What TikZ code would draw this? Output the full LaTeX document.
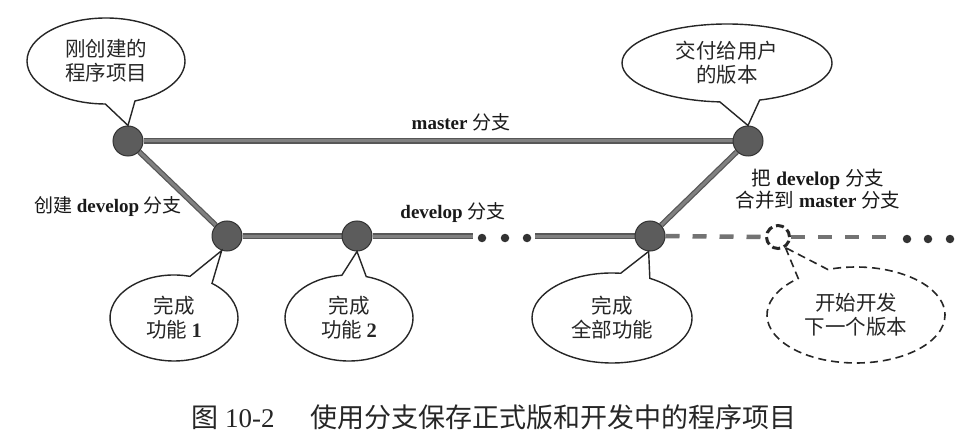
\documentclass[tikz,border=0pt]{standalone}
\usepackage{fontspec}
\setmainfont{Liberation Serif}
\newfontfamily\cjkfont{Noto Sans CJK SC}
\newcommand\ZH[1]{{\cjkfont #1}}
\usetikzlibrary{shapes.callouts,shapes.geometric}
\pgfdeclarelayer{paper}
\pgfdeclarelayer{background}
\pgfsetlayers{paper,background,main}
\begin{document}
\begin{tikzpicture}[x=1pt,y=-1pt,
  commit/.style={circle,fill=black!64,draw=black!80,line width=1pt,minimum size=30pt,inner sep=0pt},
  nextc/.style={circle,fill=white,draw=black!85,line width=3pt,dash pattern=on 8pt off 4pt,minimum size=23pt,inner sep=0pt},
  branchout/.style={line width=5.5pt,draw=black!66},
  branchin/.style={line width=3pt,draw=black!50},
  nextdash/.style={line width=4.5pt,draw=black!55,dash pattern=on 14pt off 13pt},
  dotc/.style={circle,fill=black!80,minimum size=8.5pt,inner sep=0pt},
  bubble/.style={ellipse callout,draw=black!85,line width=1.4pt,fill=white,inner sep=0pt,
    align=center,font=\cjkfont\fontsize{20.5}{24}\selectfont,text=black!85,callout pointer arc=22},
  lbl/.style={font=\fontsize{19}{22}\selectfont,align=center,inner sep=0pt,text=black!90}
]
\begin{pgfonlayer}{paper}
  \fill[white] (0,0) rectangle (973,438);
\end{pgfonlayer}
\useasboundingbox (0,0) rectangle (973,438);

% commits
\node[commit] (A) at (128,141) {};
\node[commit] (B) at (748,141) {};
\node[commit] (C) at (227,236) {};
\node[commit] (D) at (357,236) {};
\node[commit] (E) at (650,236) {};
\node[nextc] (F) at (778,237) {};

% dots
\coordinate (d1) at (473,236);
\coordinate (d2) at (535,236);
\node[dotc] (p1) at (482,238) {};
\node[dotc] (p2) at (505,238) {};
\node[dotc] (p3) at (527,238) {};
\coordinate (g1) at (897,237);
\node[dotc] (q1) at (907,239) {};
\node[dotc] (q2) at (928,239) {};
\node[dotc] (q3) at (950,239) {};

\begin{pgfonlayer}{background}
  \foreach \s/\t in {A/B,A/C,C/D,D/d1,d2/E,E/B}{
    \draw[branchout] (\s) -- (\t);
    \draw[branchin] (\s) -- (\t);
  }
  \draw[nextdash] (E.east) -- (F.west);
  \draw[nextdash] (F.east) -- (g1);
\end{pgfonlayer}

% callouts
\node[bubble,minimum width=158pt,minimum height=86pt,callout absolute pointer={(A.north)}] (b1) at (106,61) {刚创建的\\程序项目};
\node[bubble,minimum width=210pt,minimum height=78pt,callout absolute pointer={(B.north)}] (b2) at (727,63) {交付给用户\\的版本};
\node[bubble,minimum width=128pt,minimum height=86pt,callout absolute pointer={(C.250)}] (b3) at (174,318) {完成\\功能 {\rmfamily\bfseries 1}};
\node[bubble,minimum width=128pt,minimum height=86pt,callout absolute pointer={(D.south)}] (b4) at (349,318) {完成\\功能 {\rmfamily\bfseries 2}};
\node[bubble,minimum width=160pt,minimum height=90pt,callout absolute pointer={(E.265)}] (b5) at (612,318) {完成\\全部功能};
\node[bubble,minimum width=178pt,minimum height=96pt,dash pattern=on 8pt off 5pt,line width=1.6pt,callout absolute pointer={(F.-55)}] (b6) at (856,315) {开始开发\\下一个版本};

% labels
\node[lbl] (Lm) at (461,122) {\textbf{master} \ZH{分支}};
\node[lbl] (Ld) at (453,213) {\textbf{develop} \ZH{分支}};
\node[lbl] (Lc) at (108,207) {\ZH{创建} \textbf{develop} \ZH{分支}};
\node[lbl,font=\fontsize{19.5}{22}\selectfont] (Lg) at (818,189) {\ZH{把} \textbf{develop} \ZH{分支}\\\ZH{合并到} \textbf{master} \ZH{分支}};

% caption
\node[inner sep=0pt,font=\fontsize{27}{30}\selectfont,text=black!85] (cap) at (494,417) {\ZH{图} 10-2\hspace{36pt}\ZH{使用分支保存正式版和开发中的程序项目}};
\end{tikzpicture}
\end{document}
